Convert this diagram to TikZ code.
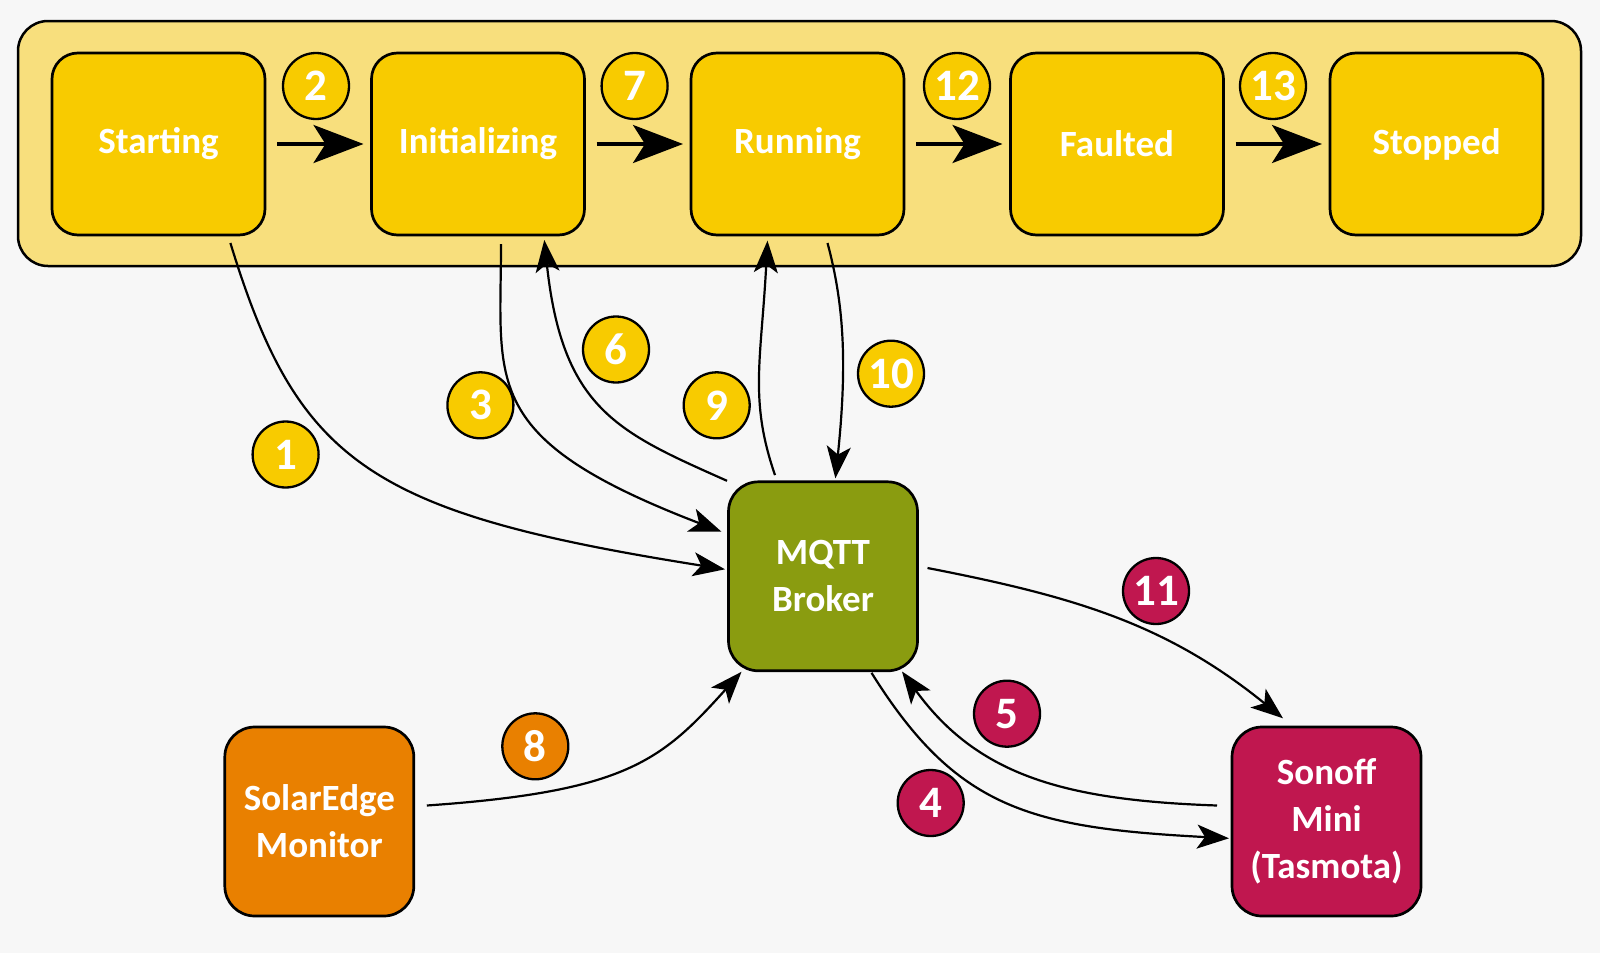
\documentclass[tikz,border=0pt]{standalone}
\usepackage{fontspec}
\setmainfont{Carlito}
\usepackage{tikz}
\usetikzlibrary{positioning,arrows.meta,calc}
\definecolor{bgray}{HTML}{F7F7F7}
\definecolor{framefill}{HTML}{F8DF7D}
\definecolor{stateyellow}{HTML}{F8CB00}
\definecolor{brokergreen}{HTML}{8A9C10}
\definecolor{solarorange}{HTML}{E98000}
\definecolor{sonoffred}{HTML}{C0174F}
\tikzset{
  basic/.style     = {draw, outer sep=0pt, align=center, text=white,
                      font=\fontsize{37}{47}\selectfont\bfseries},
  state box/.style = {basic, line width=2.7pt, rounded corners=26pt,
                      fill=stateyellow, minimum width=213pt, minimum height=182pt},
  device/.style    = {basic, line width=2.7pt, rounded corners=30pt,
                      fill=#1, minimum width=189pt, minimum height=189pt},
  badge/.style     = {circle, draw, line width=2.3pt, fill=#1, minimum size=66pt,
                      inner sep=0pt, text=white, font=\fontsize{45}{45}\selectfont\bfseries},
  step arrow/.style = {line width=3.5pt, -{Stealth[length=50pt,width=38pt,inset=12pt]}},
  msg/.style       = {line width=2.2pt, -{Stealth[length=32pt,width=24pt,inset=8pt]}}
}
\begin{document}
\begin{tikzpicture}[x=1pt,y=1pt]
  \fill[bgray, use as bounding box] (0,0) rectangle (1600,-953);
  % lifecycle frame
  \draw[fill=framefill, line width=2.5pt, rounded corners=30pt] (18,-21) rectangle (1581,-266);
  % states
  \node[state box] (Starting) at (158.5,-144) {Starting};
  \node[state box, right=106.5pt of Starting] (Initializing) {Initializing};
  \node[state box, right=106.5pt of Initializing] (Running) {Running};
  \node[state box, right=106.5pt of Running] (Faulted) {Faulted};
  \node[state box, right=106.5pt of Faulted] (Stopped) {Stopped};
  \foreach \a/\b in {Starting/Initializing, Initializing/Running, Running/Faulted, Faulted/Stopped}
    \draw[step arrow] ([xshift=12pt]\a.east) -- ([xshift=-8pt]\b.west);
  % devices
  \node[device=brokergreen] (MQTT) at (823,-576.3) {MQTT\\Broker};
  \node[device=solarorange] (Solar) at (319.3,-821.5) {SolarEdge\\Monitor};
  \node[device=sonoffred] (Sonoff) at (1326.5,-821.5) {Sonoff\\Mini\\(Tasmota)};
  % message flow
  \draw[msg] ([xshift=-34.6pt,yshift=-8pt]Starting.south east)
    .. controls +(-73:230) and +(171:360) .. ([xshift=-3.5pt,yshift=7pt]MQTT.west);
  \draw[msg] ([xshift=23pt,yshift=-9pt]Initializing.south)
    .. controls +(-90:140) and +(159:260) .. ([xshift=-7pt,yshift=44.6pt]MQTT.west);
  \draw[msg] ([xshift=-1.5pt,yshift=1pt]MQTT.north west)
    .. controls +(156:120) and +(-84:170) .. ([xshift=66.3pt,yshift=-5pt]Initializing.south);
  \draw[msg] ([xshift=-48pt,yshift=6.7pt]MQTT.north)
    .. controls +(109:80) and +(-93:120) .. ([xshift=-30pt,yshift=-5.7pt]Running.south);
  \draw[msg] ([xshift=30pt,yshift=-8pt]Running.south)
    .. controls +(-75:60) and +(84:120) .. ([xshift=12.4pt,yshift=3.4pt]MQTT.north);
  \draw[msg] ([xshift=48.5pt,yshift=-2pt]MQTT.south)
    .. controls +(-58:160) and +(177:200) .. ([xshift=-3pt,yshift=-16.8pt]Sonoff.west);
  \draw[msg] ([xshift=-15pt,yshift=16pt]Sonoff.west)
    .. controls +(178:150) and +(-54:130) .. ([xshift=79pt,yshift=-0.7pt]MQTT.south);
  \draw[msg] ([xshift=10pt,yshift=8.3pt]MQTT.east)
    .. controls +(-11:150) and +(141:150) .. ([xshift=-43.5pt,yshift=8.7pt]Sonoff.north);
  \draw[msg] ([xshift=13pt,yshift=16pt]Solar.east)
    .. controls +(4:200) and +(-132:120) .. ([xshift=-81.5pt,yshift=-1pt]MQTT.south);
  % step numbers
  \node[badge=stateyellow] (n2) at (316,-86) {2};
  \node[badge=stateyellow] (n7) at (634.6,-86) {7};
  \node[badge=stateyellow] (n12) at (957,-86) {12};
  \node[badge=stateyellow] (n13) at (1273,-86) {13};
  \node[badge=stateyellow] (n1) at (285.6,-454.5) {1};
  \node[badge=stateyellow] (n3) at (480.4,-405.3) {3};
  \node[badge=stateyellow] (n6) at (616,-349.5) {6};
  \node[badge=stateyellow] (n9) at (716.7,-405.3) {9};
  \node[badge=stateyellow] (n10) at (891,-373.7) {10};
  \node[badge=sonoffred] (n11) at (1156,-591) {11};
  \node[badge=sonoffred] (n5) at (1007,-713.7) {5};
  \node[badge=sonoffred] (n4) at (930.7,-803) {4};
  \node[badge=solarorange] (n8) at (535.3,-746.3) {8};
\end{tikzpicture}
\end{document}
